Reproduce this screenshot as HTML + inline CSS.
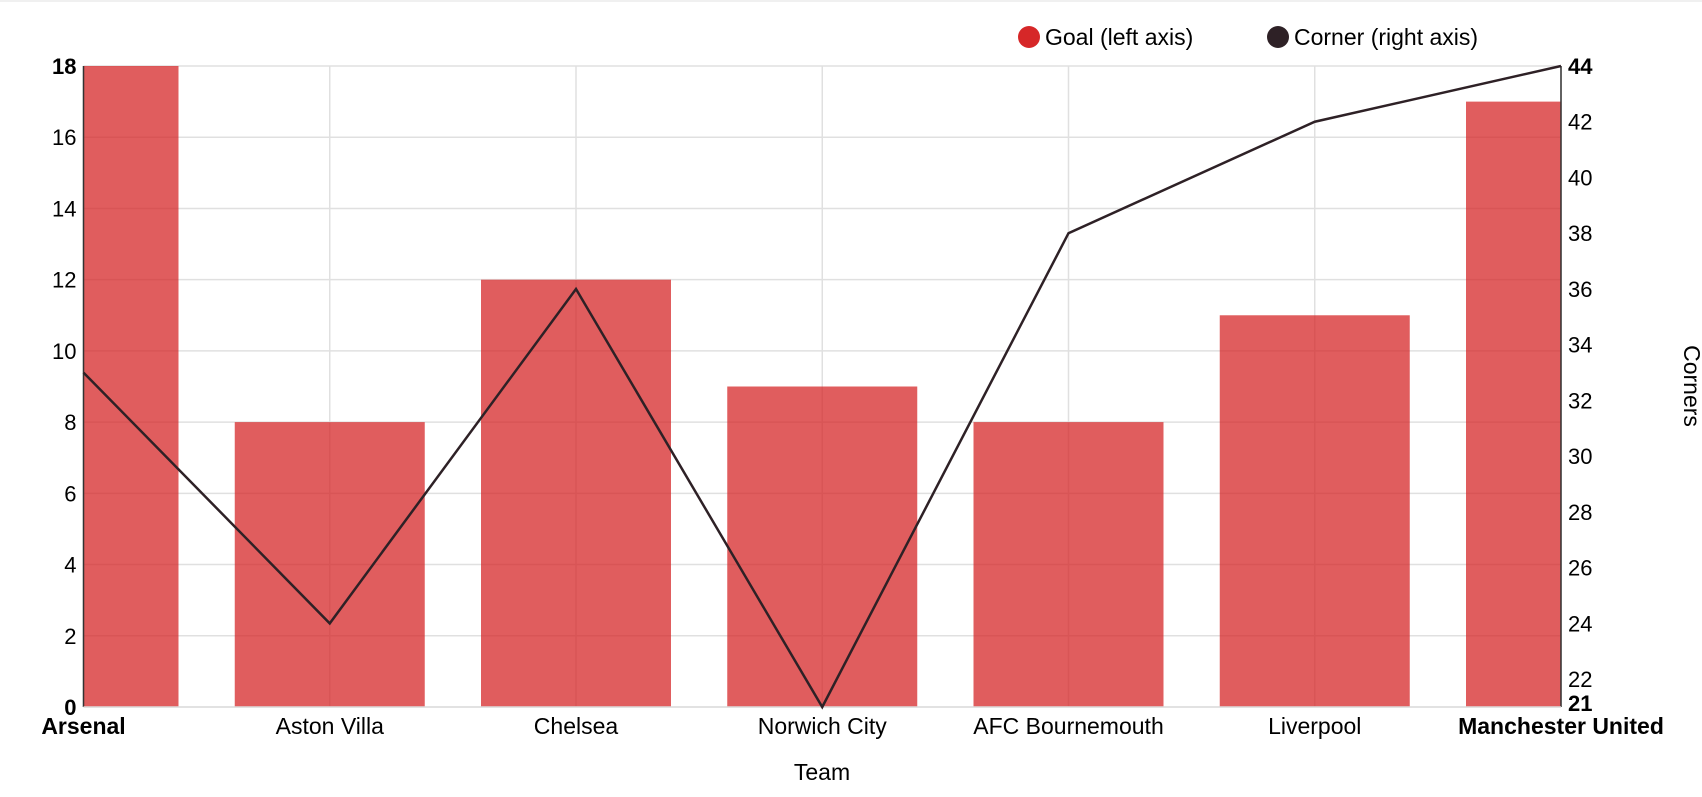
<!DOCTYPE html>
<html><head><meta charset="utf-8"><style>
body{margin:0;background:#fff;width:1702px;height:792px;overflow:hidden;font-family:"Liberation Sans",sans-serif}
svg text{font-family:"Liberation Sans",sans-serif}
</style></head><body>
<svg id="chart" width="1702" height="792" xmlns="http://www.w3.org/2000/svg">
<line x1="0" y1="1" x2="1702" y2="1" stroke="#f0f0f0" stroke-width="2"/>
<g id="grid"></g>
<g id="bars"></g>
<g id="axes"></g>
<g id="line"></g>
<g>
<circle cx="1029" cy="37" r="11" fill="#d62728"/>
<text x="1045" y="45" font-size="23" fill="#000">Goal (left axis)</text>
<circle cx="1278" cy="37" r="11" fill="#2e2126"/>
<text x="1294" y="45" font-size="23" fill="#000">Corner (right axis)</text>
</g>
<text x="822" y="780" font-size="23" text-anchor="middle">Team</text>
<text transform="translate(1684,386) rotate(90)" font-size="23" text-anchor="middle">Corners</text>
</svg>
<script>
const teams=["Arsenal","Aston Villa","Chelsea","Norwich City","AFC Bournemouth","Liverpool","Manchester United"];
const goals=[18,8,12,9,8,11,17];
const corners=[33,24,36,21,38,42,44];
const leftTicks=[0,2,4,6,8,10,12,14,16,18];
const rightTicks=[21,22,24,26,28,30,32,34,36,38,40,42,44];
const L=83.5,R=1561,T=66,B=707;
const NS="http://www.w3.org/2000/svg";
const x=i=>L+i*(R-L)/(teams.length-1);
const yL=v=>B-(v-0)/(18-0)*(B-T);
const yR=v=>B-(v-21)/(44-21)*(B-T);
function mk(tag,attrs,parent){const e=document.createElementNS(NS,tag);for(const k in attrs)e.setAttribute(k,attrs[k]);document.getElementById(parent).appendChild(e);return e;}
leftTicks.forEach(v=>{
 const g=mk('line',{x1:L,x2:R,y1:yL(v),y2:yL(v),stroke:'#e0e0e0','stroke-width':1.5},'grid');
 
 
 const t=mk('text',{x:L-7,y:yL(v)+8,'font-size':22,'text-anchor':'end','font-weight':(v===0||v===18)?'bold':'normal'},'axes');
 t.textContent=v;
 
 
});
teams.forEach((n,i)=>{
 const g=mk('line',{x1:x(i),x2:x(i),y1:T,y2:B,stroke:'#e0e0e0','stroke-width':1.5},'grid');
 
 
 const w=190;let x0=Math.max(L,x(i)-w/2),x1=Math.min(R,x(i)+w/2);
 const b=mk('rect',{x:x0,y:yL(goals[i]),width:x1-x0,height:B-yL(goals[i]),fill:'#d62728','fill-opacity':0.75},'bars');
 
 
 const t=mk('text',{x:x(i),y:734,'font-size':23,'text-anchor':'middle','font-weight':(i===0||i===teams.length-1)?'bold':'normal'},'axes');
 t.textContent=n;
 
 
});
rightTicks.forEach(v=>{
 const t=mk('text',{x:R+7,y:yR(v)+(v===21?4:8),'font-size':22,'font-weight':(v===21||v===44)?'bold':'normal'},'axes');
 t.textContent=v;
 
 
});
const la=mk('line',{x1:L,x2:L,y1:T,y2:B,stroke:'#333','stroke-width':1.5},'axes');


const ra=mk('line',{x1:R,x2:R,y1:T,y2:B,stroke:'#333','stroke-width':1.5},'axes');


const ba=mk('line',{x1:L,x2:R,y1:B,y2:B,stroke:'#ddd','stroke-width':1.5},'axes');


const p=mk('polyline',{points:corners.map((c,i)=>x(i)+','+yR(c)).join(' '),fill:'none',stroke:'#2e2126','stroke-width':2.5},'line');


</script>
</body></html>
